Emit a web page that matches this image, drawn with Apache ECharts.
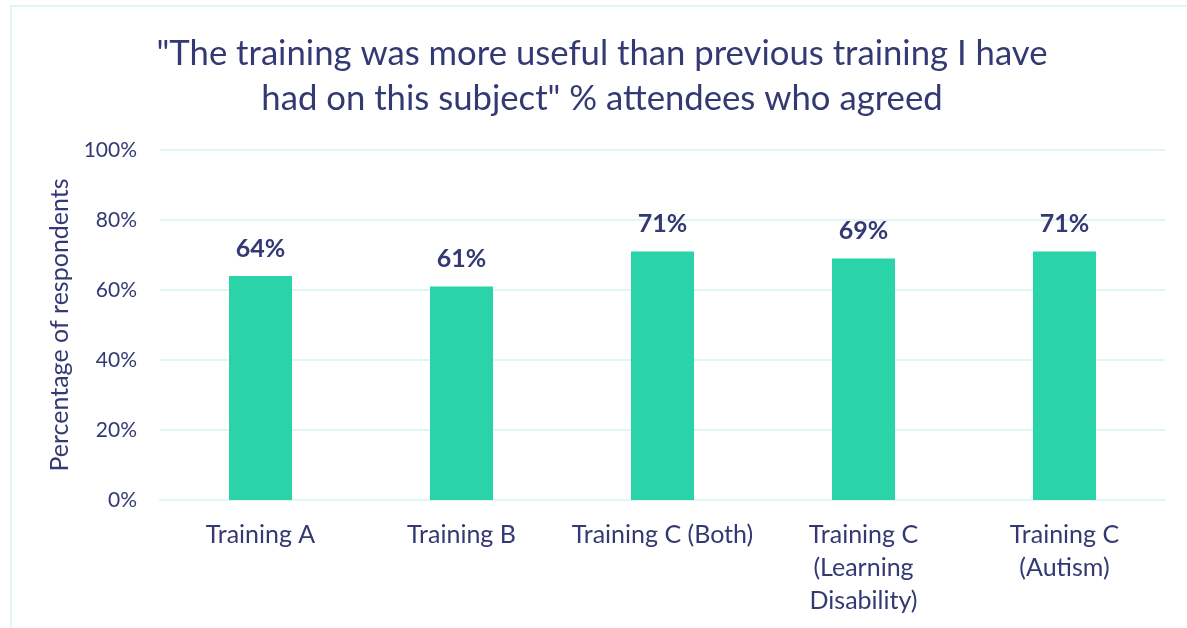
<!DOCTYPE html>
<html>
<head>
<meta charset="utf-8">
<script src="https://cdn.jsdelivr.net/npm/echarts@6/dist/echarts.min.js"></script>
<style>
html,body{margin:0;padding:0;background:#fff;overflow:hidden;}
#frame{position:absolute;left:10px;top:5px;width:1300px;height:800px;border-left:2px solid #dff7ef;border-top:2px solid #dff7ef;}
#chart{position:absolute;left:0;top:0;width:1187px;height:628px;}
</style>
</head>
<body>
<div id="frame"></div>
<div id="chart"></div>
<script>
const categories = ['Training A', 'Training B', 'Training C (Both)', 'Training C\n(Learning\nDisability)', 'Training C\n(Autism)'];
const values = [64, 61, 71, 69, 71];
const yTicks = [0, 20, 40, 60, 80, 100];
const titleLines = ['"The training was more useful than previous training I have', 'had on this subject" % attendees who agreed'];
const yAxisName = 'Percentage of respondents';

const textColor = '#333a73';
const font = 'Lato, "Open Sans", sans-serif';
const chart = echarts.init(document.getElementById('chart'));
chart.setOption({
  backgroundColor: 'transparent',
  animation: false,
  title: {
    text: titleLines.join('\n'),
    left: 597, top: 26, textAlign: 'center',
    textStyle: {color: textColor, fontFamily: font, fontWeight: 'normal', fontSize: 34.7, lineHeight: 45}
  },
  grid: {left: 160, right: 22, top: 150, bottom: 128, containLabel: false},
  xAxis: {
    type: 'category',
    data: categories,
    axisLine: {show: true, lineStyle: {color: '#dff7ef', width: 2}},
    axisTick: {show: false},
    axisLabel: {color: textColor, fontFamily: font, fontSize: 25, lineHeight: 33, margin: 18, interval: 0}
  },
  yAxis: {
    type: 'value', min: yTicks[0], max: yTicks[yTicks.length - 1], interval: 20,
    name: yAxisName, nameLocation: 'middle', nameGap: 84,
    nameTextStyle: {color: textColor, fontFamily: font, fontSize: 25},
    axisLine: {show: false}, axisTick: {show: false},
    axisLabel: {color: textColor, fontFamily: font, fontSize: 21, margin: 23, formatter: v => v + '%'},
    splitLine: {lineStyle: {color: '#dff7ef', width: 2}}
  },
  series: [{
    type: 'bar',
    data: values,
    barWidth: 63,
    itemStyle: {color: '#2bd3a8'},
    label: {show: true, position: 'top', distance: 15, color: textColor, fontFamily: font, fontWeight: 'bold', fontSize: 25, formatter: p => p.value + '%'}
  }]
});
</script>
</body>
</html>
